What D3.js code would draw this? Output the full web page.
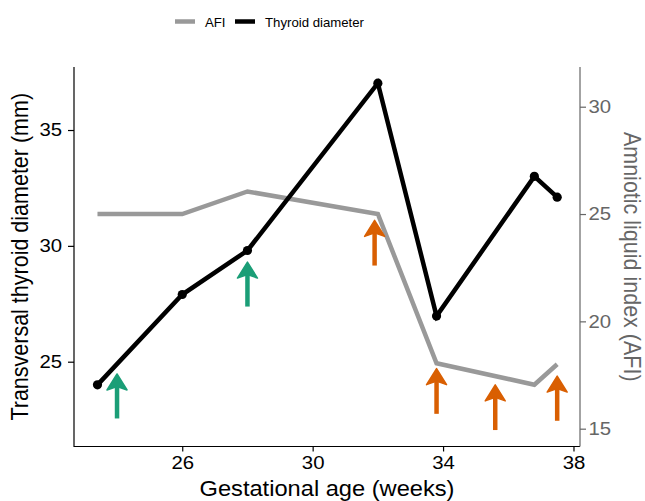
<!DOCTYPE html>
<html><head><meta charset="utf-8">
<script src="https://cdn.jsdelivr.net/npm/d3@7"></script>
<style>body{margin:0;background:#fff}svg{display:block}text{font-family:"Liberation Sans",Arial,sans-serif}</style>
</head><body><svg id="c" width="645" height="501"></svg>
<script>
const weeks = [23.4, 26, 28, 32, 33.8, 36.8, 37.5];
const thyroid = [24.0, 27.9, 29.8, 37.02, 26.97, 33.0, 32.1];
const afi = [25.0, 25.0, 26.05, 25.0, 18.05, 17.05, 18.0];
const arrowX = [24.0, 28.0, 31.9, 33.8, 35.6, 37.5];
const arrowTip = [24.47, 29.3, 31.1, 24.7, 24.0, 24.38];
const arrowTail = [22.55, 27.38, 29.15, 22.75, 22.05, 22.45];
const arrowGroup = ["green", "green", "orange", "orange", "orange", "orange"];
const xTicks = [26, 30, 34, 38];
const yTicks = [25, 30, 35];
const y2Ticks = [15, 20, 25, 30];

const svg = d3.select("#c");
const L = 74, R = 580, T = 67, B = 446.5;
const SX = 1.1; // horizontal stretch of glyphs seen in reference
const x = d3.scaleLinear().domain([22.68, 38.2]).range([L, R]);
const y = d3.scaleLinear().domain([21.34, 37.72]).range([B, T]);
const y2 = d3.scaleLinear().domain([14.17, 31.85]).range([B, T]);
const col = d3.scaleOrdinal().domain(["green", "orange"]).range(["#1b9e77", "#d95f02"]);

function styleTicks(g, color) {
  g.selectAll(".tick line").attr("stroke", color).attr("stroke-width", 1.2);
  g.selectAll(".tick text").attr("fill", color)
    .style("font-size", "18.5px").style("font-family", "Liberation Sans, Arial, sans-serif")
    .each(function () {
      const t = d3.select(this);
      const xv = +t.attr("x") || 0;
      t.attr("x", xv / SX).attr("transform", `scale(${SX},1)`);
    });
  g.select(".domain").remove();
}
const xa = svg.append("g").attr("transform", `translate(0,${B})`)
  .call(d3.axisBottom(x).tickValues(xTicks).tickSize(5).tickPadding(4).tickFormat(d3.format("d")));
const ya = svg.append("g").attr("transform", `translate(${L},0)`)
  .call(d3.axisLeft(y).tickValues(yTicks).tickSize(6).tickPadding(6).tickFormat(d3.format("d")));
const y2a = svg.append("g").attr("transform", `translate(${R},0)`)
  .call(d3.axisRight(y2).tickValues(y2Ticks).tickSize(6).tickPadding(2.5).tickFormat(d3.format("d")));
styleTicks(xa, "#000"); styleTicks(ya, "#000"); styleTicks(y2a, "#666");
svg.append("line").attr("x1", L).attr("x2", L).attr("y1", T).attr("y2", B + 0.6).attr("stroke", "#000").attr("stroke-width", 1.2);
svg.append("line").attr("x1", L).attr("x2", R).attr("y1", B).attr("y2", B).attr("stroke", "#000").attr("stroke-width", 1.2);
svg.append("line").attr("x1", R).attr("x2", R).attr("y1", T).attr("y2", B).attr("stroke", "#666").attr("stroke-width", 1.2);

// lines
const afiLine = d3.line().x((d, i) => x(weeks[i])).y(d => y2(d));
svg.append("path").datum(afi).attr("d", afiLine).attr("fill", "none").attr("stroke", "#999").attr("stroke-width", 4.5);
const thLine = d3.line().x((d, i) => x(weeks[i])).y(d => y(d));
svg.append("path").datum(thyroid).attr("d", thLine).attr("fill", "none").attr("stroke", "#000").attr("stroke-width", 4.5);
svg.selectAll("circle.pt").data(thyroid).join("circle").attr("cx", (d, i) => x(weeks[i])).attr("cy", d => y(d)).attr("r", 4.6).attr("fill", "#000");

// arrows
arrowX.forEach((ax, i) => {
  const cx = x(ax), tipY = y(arrowTip[i]), tailY = y(arrowTail[i]);
  const c = col(arrowGroup[i]);
  svg.append("line").attr("x1", cx).attr("x2", cx).attr("y1", tipY + 6).attr("y2", tailY).attr("stroke", c).attr("stroke-width", 4.5);
  svg.append("path").attr("d", `M${cx},${tipY} L${cx + 10},${tipY + 16} L${cx},${tipY + 12.5} L${cx - 10},${tipY + 16} Z`)
    .attr("fill", c).attr("stroke", c).attr("stroke-width", 1.5).attr("stroke-linejoin", "round");
});

// titles
svg.append("text").attr("transform", `translate(${(L + R) / 2},496) scale(${SX},1)`).attr("text-anchor", "middle").style("font-size", "21.5px").attr("fill", "#000").text("Gestational age (weeks)");
svg.append("text").attr("transform", `translate(28,${(T + B) / 2}) scale(${SX},1) rotate(-90)`).attr("text-anchor", "middle").style("font-size", "21.5px").attr("fill", "#000").text("Transversal thyroid diameter (mm)");
svg.append("text").attr("transform", `translate(624,${(T + B) / 2}) scale(${SX},1) rotate(90)`).attr("text-anchor", "middle").style("font-size", "21.5px").attr("fill", "#666").text("Amniotic liquid index (AFI)");

// legend
const legNames = ["AFI", "Thyroid diameter"];
const legCols = ["#999", "#000"];
const legX = [175, 235];
legNames.forEach((n, i) => {
  svg.append("line").attr("x1", legX[i]).attr("x2", legX[i] + 20).attr("y1", 21.5).attr("y2", 21.5).attr("stroke", legCols[i]).attr("stroke-width", 4.5);
  svg.append("text").attr("x", legX[i] + 30).attr("y", 26.5).style("font-size", "13.2px").attr("fill", "#000").text(n);
});
</script></body></html>
